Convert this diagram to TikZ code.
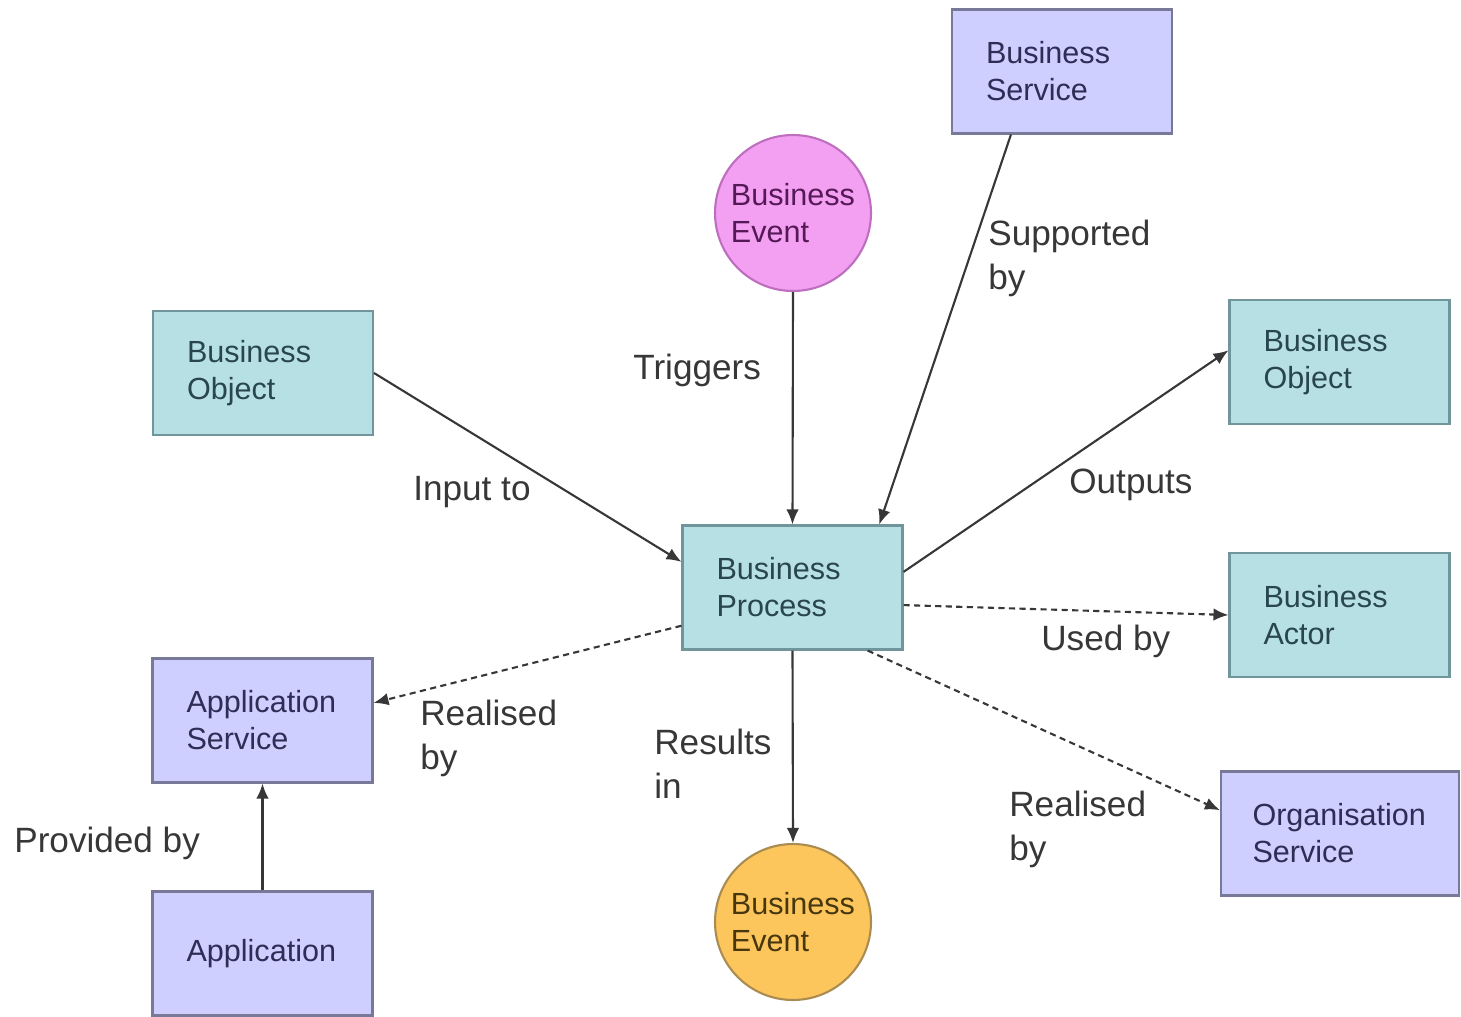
\documentclass[tikz,border=0pt]{standalone}
\usepackage{fontspec}
\setmainfont{Liberation Sans}
\usetikzlibrary{arrows.meta, positioning}
\definecolor{procteal}{RGB}{183, 224, 229}
\definecolor{procedge}{RGB}{112, 150, 156}
\definecolor{proctext}{RGB}{40, 70, 75}
\definecolor{servlav}{RGB}{206, 206, 255}
\definecolor{servedge}{RGB}{120, 120, 152}
\definecolor{servtext}{RGB}{45, 45, 85}
\definecolor{evpink}{RGB}{243, 160, 243}
\definecolor{evpinkedge}{RGB}{190, 110, 190}
\definecolor{evpinktext}{RGB}{85, 25, 85}
\definecolor{evorange}{RGB}{253, 198, 92}
\definecolor{evorangeedge}{RGB}{170, 140, 80}
\definecolor{evorangetext}{RGB}{70, 55, 15}
\definecolor{linkgray}{RGB}{55, 55, 55}
\definecolor{labelgray}{RGB}{55, 55, 55}

\tikzset{
  boxtxt/.style={font=\fontsize{17.4}{21}\selectfont},
  plainbox/.style={draw, line width=1.2pt, minimum height=2.48cm, text width=3.04cm, inner xsep=0.68cm, align=left, boxtxt},
  tealbox/.style={plainbox, draw=procedge, fill=procteal, text=proctext},
  lavbox/.style={plainbox, draw=servedge, fill=servlav, text=servtext},
  evt/.style={circle, line width=1.2pt, minimum size=3.12cm, inner sep=0pt, align=left, boxtxt},
  lbl/.style={font=\fontsize{20}{25}\selectfont, text=labelgray, align=left, inner sep=0pt, anchor=west},
  link/.style={draw=linkgray, line width=1.2pt, -{Latex[length=0.3cm, width=0.25cm]}},
  dlink/.style={link, dash pattern=on 3.5pt off 2.5pt}
}

\begin{document}
\begin{tikzpicture}[x=0.02cm, y=-0.02cm]
  \useasboundingbox (0, 0) rectangle (1461, 1017);

  % Centre
  \node[tealbox] (bproc) at (792.5, 587.5) {Business\\Process};

  % Top
  \node[lavbox] (bsvc) at (1062, 71.5) {Business\\Service};
  \node[evt, draw=evpinkedge, fill=evpink, text=evpinktext] (bevtin) at (793, 213) {Business\\Event};

  % Left
  \node[tealbox] (bobjin) at (263, 373) {Business\\Object};
  \node[lavbox] (appsvc) at (262.5, 720.5) {Application\\Service};
  \node[lavbox] (app) at (262.5, 953.5) {Application};

  % Right
  \node[tealbox] (bobjout) at (1339.5, 362) {Business\\Object};
  \node[tealbox] (bactor) at (1339.5, 615) {Business\\Actor};
  \node[lavbox, text width=3.5cm, inner xsep=0.63cm] (orgsvc) at (1340, 833.5) {Organisation\\Service};

  % Bottom
  \node[evt, draw=evorangeedge, fill=evorange, text=evorangetext] (bevtout) at (793, 922) {Business\\Event};

  % Links
  \draw[link] (bobjin.east) -- (bproc.167);
  \draw[link] (bevtin.south) -- (bproc.north);
  \draw[link] (bsvc.231.5) -- (bproc.36.8);
  \draw[link] (bproc.8) -- (bobjout.174.8);
  \draw[dlink] (bproc.-9.1) -- (bactor.west);
  \draw[dlink] (bproc.-40.4) -- (orgsvc.169.8);
  \draw[dlink] (bproc.199.8) -- (appsvc.9.5);
  \draw[link] (bproc.south) -- (bevtout.north);
  \draw[link] (app.north) -- (appsvc.south);

  % Link labels
  \node[lbl] (lsupp) at (988, 258) {Supported\\by};
  \node[lbl] (ltrig) at (633, 370) {Triggers};
  \node[lbl] (linput) at (413, 492) {Input to};
  \node[lbl] (loutp) at (1069, 485) {Outputs};
  \node[lbl] (lused) at (1041, 641) {Used by};
  \node[lbl] (lrealapp) at (420, 738.5) {Realised\\by};
  \node[lbl] (lresult) at (654, 763.5) {Results\\in};
  \node[lbl] (lrealorg) at (1009, 829.5) {Realised\\by};
  \node[lbl] (lprov) at (14, 843) {Provided by};
\end{tikzpicture}
\end{document}
